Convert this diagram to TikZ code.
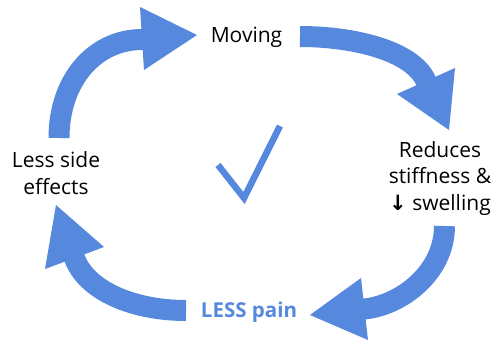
\documentclass[tikz,border=0pt]{standalone}
\usepackage{fontspec}
\setmainfont{Open Sans}
\newfontfamily\symfont{DejaVu Sans}
\definecolor{cycblue}{RGB}{86,136,222}
\begin{document}
\begin{tikzpicture}[x=1pt,y=-1pt,
  shaft/.style={draw=cycblue,line width=21pt,line cap=butt},
  head/.style={fill=cycblue,draw=none},
  lbl/.style={font=\fontsize{21}{26.5}\selectfont,align=center,inner sep=0pt,text=black},
  lessp/.style={font=\fontsize{20.5}{26}\selectfont\bfseries,inner sep=0pt,text=cycblue}]
\useasboundingbox (0,0) rectangle (504,343);
% arrow coordinates
\coordinate (a1s) at (59,138);   \coordinate (a1e) at (142,39.5);
\coordinate (a2s) at (300,36.5); \coordinate (a2e) at (426,81);
\coordinate (a3s) at (444.5,226);\coordinate (a3e) at (364.5,309);
\coordinate (a4s) at (186,310.5);\coordinate (a4e) at (74.5,258);
% arrow 1
\draw[shaft] (a1s) .. controls (59,80) and (95,39.5) .. (a1e) -- ++(4,0);
\fill[head] (140,7) -- (197,35) -- (144,70) -- cycle;
% arrow 2
\draw[shaft] (a2s) .. controls (352,36.5) and (412,50) .. (a2e) -- ++(1.6,3.6);
\fill[head] (397,94) -- (449,130) -- (455,68) -- cycle;
% arrow 3
\draw[shaft] (a3s) .. controls (444.5,272) and (402,305) .. (a3e) -- ++(-4,0.4);
\fill[head] (361,278) -- (310,315) -- (368,340) -- cycle;
% arrow 4
\draw[shaft] (a4s) .. controls (132,310.5) and (86,290) .. (a4e) -- ++(-1.4,-3.8);
\fill[head] (45,269) -- (56,205) -- (104,247) -- cycle;
% check mark
\coordinate (c1) at (218,165); \coordinate (c2) at (244,198); \coordinate (c3) at (280,126);
\draw[cycblue,line width=6.5pt,line join=miter,line cap=butt] (c1) -- (c2) -- (c3);
% labels
\node[lbl,anchor=base] (moving) at (246.5,42) {Moving};
\node[lbl,anchor=base] (reduces) at (440,210) {Reduces\\stiffness \&\\{\symfont\bfseries ↓} swelling};
\node[lbl,anchor=base] (less) at (56,194) {Less side\\effects};
\node[lessp,anchor=base] (pain) at (249,317) {LESS pain};
\end{tikzpicture}
\end{document}
